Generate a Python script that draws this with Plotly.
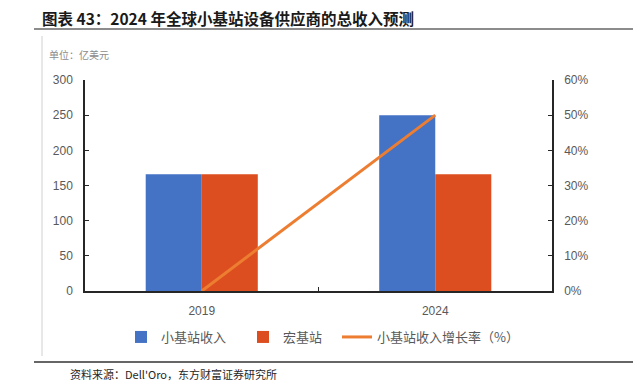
import plotly.graph_objects as go

categories = ["2019", "2024"]
small_cell = [166, 250]
macro = [166, 166]
growth = [0.0, 0.50]

OFF = 8  # page body margin
W, H = 644 - OFF, 391 - OFF
L, R, T, B = 85 - OFF, 552 - OFF, 80 - OFF, 291 - OFF  # plot area in figure pixels

def px(x):
    return (x - OFF - L) / (R - L)

def py(y):
    return (B - (y - OFF)) / (B - T)

CJK = "Noto Sans CJK SC"
NUM = "Liberation Sans"

fig = go.Figure()
fig.add_trace(go.Bar(x=categories, y=small_cell, name="小基站收入", legend="legend",
                     marker=dict(color="#4472C4", line=dict(width=0))))
fig.add_trace(go.Bar(x=categories, y=macro, name="宏基站", legend="legend2",
                     marker=dict(color="#DC4E1F", line=dict(width=0))))
fig.add_trace(go.Scatter(x=categories, y=growth, name="小基站收入增长率（%）", legend="legend3",
                         mode="lines", yaxis="y2",
                         line=dict(color="#ED7D31", width=3)))

def leg(xpix):
    return dict(orientation="h", x=px(xpix), y=py(337), xanchor="left", yanchor="middle",
                font=dict(family=CJK, size=13, color="#595959"),
                itemwidth=30, bgcolor="rgba(0,0,0,0)")

fig.update_layout(
    width=W, height=H,
    margin=dict(l=L, r=W - R, t=T, b=H - B, pad=0),
    paper_bgcolor="white", plot_bgcolor="white",
    barmode="group", bargap=0.52, bargroupgap=0,
    showlegend=True,
    legend=leg(121), legend2=leg(243), legend3=leg(337),
    xaxis=dict(type="category", showgrid=False, showline=True, linecolor="#262626", linewidth=1.5,
               ticks="inside", ticklen=4, tickcolor="#262626", tickson="boundaries",
               tickfont=dict(family=NUM, size=12, color="#595959"), zeroline=False,
               ticklabelstandoff=8),
    yaxis=dict(range=[0, 300], dtick=50, showgrid=False, showline=True, linecolor="#262626",
               linewidth=1.5, ticks="inside", ticklen=4, tickcolor="#262626",
               tickfont=dict(family=NUM, size=12, color="#595959"), zeroline=False,
               ticklabelstandoff=8),
    yaxis2=dict(range=[0, 0.6], dtick=0.1, tickformat=".0%", overlaying="y", side="right",
                showgrid=False, showline=True, linecolor="#262626", linewidth=1.5,
                ticks="inside", ticklen=4, tickcolor="#262626",
                tickfont=dict(family=NUM, size=12, color="#595959"), zeroline=False,
                ticklabelstandoff=8),
)

annotations = [
    dict(text="<b>图表 43：2024 年全球小基站设备供应商的总收入预测</b>", x=px(40), y=py(18),
         font=dict(family=CJK, size=15.5, color="#1a1a1a")),
    dict(text="单位：亿美元", x=px(47), y=py(54),
         font=dict(family=CJK, size=10, color="#8c8c8c")),
    dict(text="资料来源：Dell'Oro，东方财富证券研究所", x=px(68), y=py(374),
         font=dict(family=CJK, size=11, color="#262626")),
]
for a in annotations:
    a.update(xref="paper", yref="paper", xanchor="left", yanchor="middle", showarrow=False)
fig.update_layout(annotations=annotations)

shapes = [
    dict(type="line", x0=px(34), x1=px(633), y0=py(29), y1=py(29),
         line=dict(color="#8c8c8c", width=2)),
    dict(type="line", x0=px(42), x1=px(42), y0=py(36), y1=py(356),
         line=dict(color="#d0d0d0", width=1)),
    dict(type="line", x0=px(34), x1=px(633), y0=py(362), y1=py(362),
         line=dict(color="#333333", width=1.5)),
]
for s in shapes:
    s.update(xref="paper", yref="paper", layer="above")
fig.update_layout(shapes=shapes)

fig.write_html("out.html")
